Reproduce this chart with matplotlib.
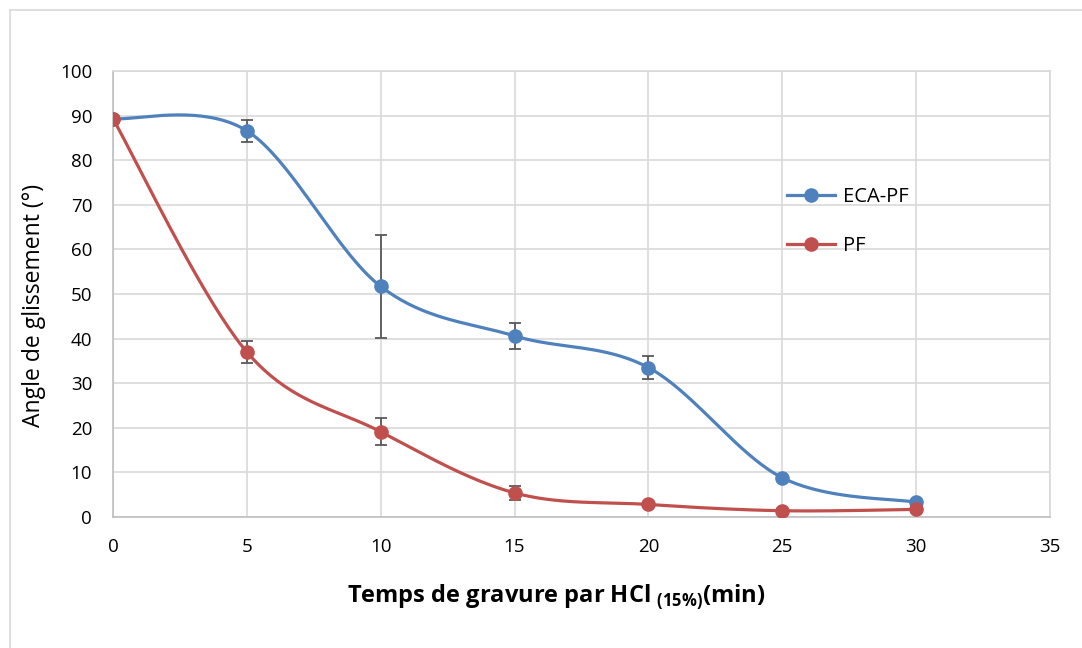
import matplotlib
matplotlib.use('Agg')
import numpy as np
import matplotlib.pyplot as plt
from matplotlib.lines import Line2D

# --- données : angle de glissement vs temps de gravure HCl 15 % ---
temps = [0, 5, 10, 15, 20, 25, 30]
eca_pf = [89.3, 86.6, 51.7, 40.6, 33.5, 8.8, 3.3]
eca_pf_err = [0, 2.5, 11.5, 3.0, 2.5, 0, 0]
pf = [89.3, 37.0, 19.1, 5.4, 2.8, 1.4, 1.7]
pf_err = [0, 2.5, 3.0, 1.5, 0, 0, 0]

BLUE, RED = '#4f81bd', '#c0504d'

plt.rcParams['font.family'] = ['Open Sans', 'DejaVu Sans']
plt.rcParams['mathtext.fontset'] = 'custom'
plt.rcParams['mathtext.bf'] = 'Open Sans:bold'
plt.rcParams['mathtext.rm'] = 'Open Sans'


def lissage(x, y, n=40):
    """Courbe lissée type Excel (Catmull-Rom)."""
    x = np.asarray(x, float); y = np.asarray(y, float)
    px = np.concatenate([[x[0]], x, [x[-1]]])
    py = np.concatenate([[y[0]], y, [y[-1]]])
    t = np.linspace(0, 1, n)
    xs, ys = [], []
    for i in range(1, len(px) - 2):
        p0, p1, p2, p3 = (np.array([px[j], py[j]]) for j in (i - 1, i, i + 1, i + 2))
        c1 = p1 + (p2 - p0) / 6
        c2 = p2 - (p3 - p1) / 6
        b = ((1 - t) ** 3)[:, None] * p1 + (3 * (1 - t) ** 2 * t)[:, None] * c1 \
            + (3 * (1 - t) * t ** 2)[:, None] * c2 + (t ** 3)[:, None] * p2
        xs.append(b[:, 0]); ys.append(b[:, 1])
    return np.concatenate(xs), np.concatenate(ys)


fig = plt.figure(figsize=(10.82, 6.48), dpi=100)
ax = fig.add_axes([0.1044, 0.2022, 0.866, 0.6882])

for y, err, c, lab in [(eca_pf, eca_pf_err, BLUE, 'ECA-PF'), (pf, pf_err, RED, 'PF')]:
    sx, sy = lissage(temps, y)
    ax.plot(sx, sy, color=c, lw=2.3, zorder=3, solid_capstyle='round')
    ax.errorbar(temps, y, yerr=err, fmt='none', ecolor='#595959', elinewidth=1.3,
                capsize=4.5, capthick=1.3, zorder=2)
    ax.plot(temps, y, 'o', color=c, ms=9.5, zorder=4)

ax.set_xlim(0, 35); ax.set_ylim(0, 100)
ax.set_xticks(range(0, 36, 5)); ax.set_yticks(range(0, 101, 10))
ax.grid(True, color='#d9d9d9', lw=1.2)
ax.set_axisbelow(True)
for s in ax.spines.values():
    s.set_color('#d9d9d9'); s.set_linewidth(1.2)
ax.spines['bottom'].set_color('#bfbfbf')
ax.spines['left'].set_color('#bfbfbf')
ax.tick_params(length=0, labelsize=13.5, colors='black')
ax.tick_params(axis='x', pad=15)
ax.tick_params(axis='y', pad=15)

ax.set_ylabel('Angle de glissement (°)', fontsize=16.5)
ax.set_xlabel(r'Temps de gravure par HCl $_{\mathbf{(15\%)}}$(min)', fontsize=17,
              fontweight='bold')
ax.yaxis.set_label_coords(-0.0715, 0.475)
ax.xaxis.set_label_coords(0.473, -0.148)

handles = [Line2D([], [], color=BLUE, lw=2.3, marker='o', ms=9.5),
           Line2D([], [], color=RED, lw=2.3, marker='o', ms=9.5)]
ax.legend(handles, ['ECA-PF', 'PF'], frameon=False, fontsize=14.5,
          loc='upper left', bbox_to_anchor=(0.7, 0.78), labelspacing=1.45,
          handlelength=2.4, handletextpad=0.4)

# cadre extérieur du graphique
fig.add_artist(Line2D([10 / 1082, 1], [1 - 10 / 648, 1 - 10 / 648],
                      transform=fig.transFigure, color='#d9d9d9', lw=1.2))
fig.add_artist(Line2D([10 / 1082, 10 / 1082], [0, 1 - 10 / 648],
                      transform=fig.transFigure, color='#d9d9d9', lw=1.2))

fig.savefig('out.png', dpi=100)
